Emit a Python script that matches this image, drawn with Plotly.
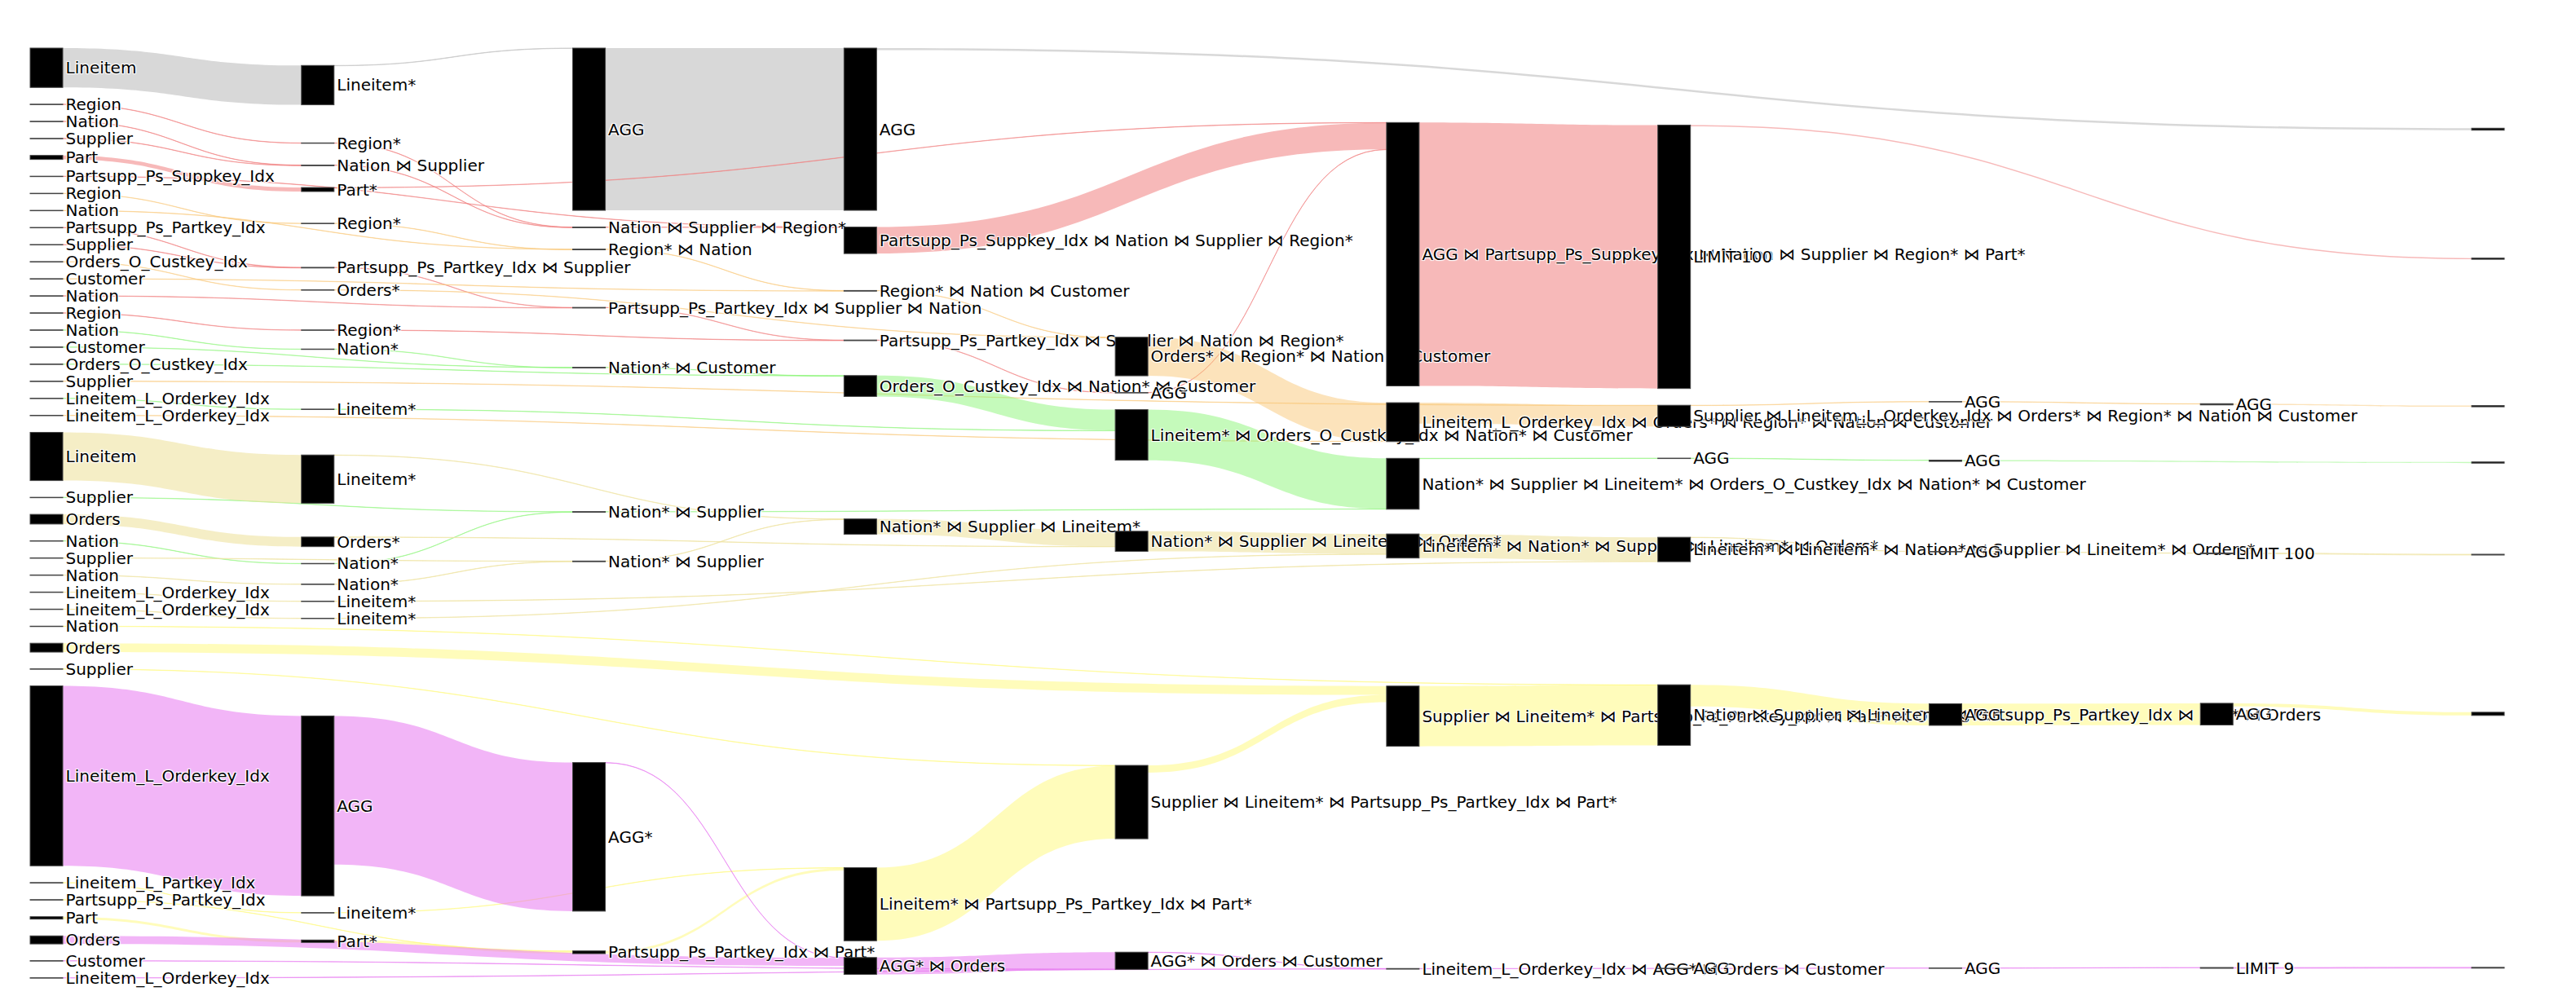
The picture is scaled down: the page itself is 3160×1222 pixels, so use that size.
import plotly.graph_objects as go

# ---------------- data ----------------
# Query-plan operators (one key per node). Prefix = query: G, P, O, N, K, Y, V.
node_keys = [
    # scans / sources
    "O.Supplier", "P.PsPart", "O.OCust", "Y.Nation", "N.Supplier", "P.Part", "N.Nation1", "P.Region1",
    "N.Nation2", "P.PsSupp", "K.Orders", "O.Region", "N.Customer", "K.Supplier", "Y.Orders", "K.LOK1",
    "O.Nation", "G.Lineitem", "Y.Part", "P.Region2", "Y.Supplier", "Y.LPart", "P.Nation1", "K.LOK2",
    "K.Nation", "O.LOK", "K.Lineitem", "O.Customer", "P.Supplier2", "V.LOKbig", "N.LOK", "V.Orders",
    "P.Nation2", "N.OCust", "Y.PsPart", "V.Customer", "P.Supplier1", "V.LOK",
    # step 1
    "Y.Lineitem*", "P.Region*1", "O.Orders*", "K.Lineitem*3", "P.NxS", "P.Part*", "V.AGG1", "K.Lineitem*2",
    "K.Nation*", "Y.Part*", "K.Orders*", "N.Nation*2", "G.Lineitem*", "O.Region*", "P.PsPartxS", "N.Nation*1",
    "P.Region*2", "K.Lineitem*1", "N.Lineitem*",
    # step 2
    "K.NxS", "P.PsPartxSxN", "Y.PsPartxPart", "P.NxSxR", "G.AGG2", "N.NxS", "O.RxN", "V.AGG*2", "N.NxC",
    # step 3
    "V.AxO", "Y.c3", "G.AGG3", "O.RxNxC", "K.c3", "P.c3big", "P.c3small", "N.c3",
    # step 4
    "P.AGG4", "N.c4", "O.c4", "K.c4", "Y.c4", "V.AxOxC",
    # step 5
    "P.c5", "K.c5", "V.c5", "Y.c5", "N.c5", "O.c5",
    # step 6
    "Y.c6", "K.c6", "N.AGG6", "O.c6", "V.AGG6", "P.LIMIT",
    # step 7
    "O.AGG7", "N.AGG7", "V.AGG7", "Y.AGG7", "K.AGG7",
    # step 8
    "V.LIMIT", "O.AGG8", "K.LIMIT", "Y.AGG8",
    # results
    "Y.final", "G.final", "P.final", "N.final", "K.final", "V.final", "O.final",
]

label_of = {
    "G.Lineitem": "Lineitem", "G.Lineitem*": "Lineitem*", "G.AGG2": "AGG", "G.AGG3": "AGG", "G.final": "",
    "P.Part": "Part", "P.Region1": "Region", "P.PsSupp": "Partsupp_Ps_Suppkey_Idx", "P.Nation1": "Nation",
    "P.Supplier1": "Supplier", "P.Region2": "Region", "P.Nation2": "Nation", "P.PsPart": "Partsupp_Ps_Partkey_Idx",
    "P.Supplier2": "Supplier", "P.Part*": "Part*", "P.Region*1": "Region*", "P.NxS": "Nation ⋈ Supplier",
    "P.Region*2": "Region*", "P.PsPartxS": "Partsupp_Ps_Partkey_Idx ⋈ Supplier",
    "P.NxSxR": "Nation ⋈ Supplier ⋈ Region*", "P.PsPartxSxN": "Partsupp_Ps_Partkey_Idx ⋈ Supplier ⋈ Nation",
    "P.c3big": "Partsupp_Ps_Suppkey_Idx ⋈ Nation ⋈ Supplier ⋈ Region*",
    "P.c3small": "Partsupp_Ps_Partkey_Idx ⋈ Supplier ⋈ Nation ⋈ Region*", "P.AGG4": "AGG",
    "P.c5": "AGG ⋈ Partsupp_Ps_Suppkey_Idx ⋈ Nation ⋈ Supplier ⋈ Region* ⋈ Part*",
    "P.LIMIT": "LIMIT 100", "P.final": "",
    "O.Region": "Region", "O.Nation": "Nation", "O.OCust": "Orders_O_Custkey_Idx", "O.Customer": "Customer",
    "O.LOK": "Lineitem_L_Orderkey_Idx", "O.Supplier": "Supplier", "O.Region*": "Region*", "O.Orders*": "Orders*",
    "O.RxN": "Region* ⋈ Nation", "O.RxNxC": "Region* ⋈ Nation ⋈ Customer",
    "O.c4": "Orders* ⋈ Region* ⋈ Nation ⋈ Customer",
    "O.c5": "Lineitem_L_Orderkey_Idx ⋈ Orders* ⋈ Region* ⋈ Nation ⋈ Customer",
    "O.c6": "Supplier ⋈ Lineitem_L_Orderkey_Idx ⋈ Orders* ⋈ Region* ⋈ Nation ⋈ Customer",
    "O.AGG7": "AGG", "O.AGG8": "AGG", "O.final": "",
    "N.Customer": "Customer", "N.Nation1": "Nation", "N.OCust": "Orders_O_Custkey_Idx", "N.Supplier": "Supplier",
    "N.LOK": "Lineitem_L_Orderkey_Idx", "N.Nation2": "Nation", "N.Nation*1": "Nation*", "N.Lineitem*": "Lineitem*",
    "N.Nation*2": "Nation*", "N.NxC": "Nation* ⋈ Customer", "N.NxS": "Nation* ⋈ Supplier",
    "N.c3": "Orders_O_Custkey_Idx ⋈ Nation* ⋈ Customer",
    "N.c4": "Lineitem* ⋈ Orders_O_Custkey_Idx ⋈ Nation* ⋈ Customer",
    "N.c5": "Nation* ⋈ Supplier ⋈ Lineitem* ⋈ Orders_O_Custkey_Idx ⋈ Nation* ⋈ Customer",
    "N.AGG6": "AGG", "N.AGG7": "AGG", "N.final": "",
    "K.Lineitem": "Lineitem", "K.LOK1": "Lineitem_L_Orderkey_Idx", "K.Orders": "Orders",
    "K.LOK2": "Lineitem_L_Orderkey_Idx", "K.Supplier": "Supplier", "K.Nation": "Nation",
    "K.Lineitem*1": "Lineitem*", "K.Lineitem*2": "Lineitem*", "K.Orders*": "Orders*", "K.Lineitem*3": "Lineitem*",
    "K.Nation*": "Nation*", "K.NxS": "Nation* ⋈ Supplier", "K.c3": "Nation* ⋈ Supplier ⋈ Lineitem*",
    "K.c4": "Nation* ⋈ Supplier ⋈ Lineitem* ⋈ Orders*",
    "K.c5": "Lineitem* ⋈ Nation* ⋈ Supplier ⋈ Lineitem* ⋈ Orders*",
    "K.c6": "Lineitem* ⋈ Lineitem* ⋈ Nation* ⋈ Supplier ⋈ Lineitem* ⋈ Orders*",
    "K.AGG7": "AGG", "K.LIMIT": "LIMIT 100", "K.final": "",
    "Y.Nation": "Nation", "Y.Orders": "Orders", "Y.Supplier": "Supplier", "Y.PsPart": "Partsupp_Ps_Partkey_Idx",
    "Y.LPart": "Lineitem_L_Partkey_Idx", "Y.Part": "Part", "Y.Lineitem*": "Lineitem*", "Y.Part*": "Part*",
    "Y.PsPartxPart": "Partsupp_Ps_Partkey_Idx ⋈ Part*", "Y.c3": "Lineitem* ⋈ Partsupp_Ps_Partkey_Idx ⋈ Part*",
    "Y.c4": "Supplier ⋈ Lineitem* ⋈ Partsupp_Ps_Partkey_Idx ⋈ Part*",
    "Y.c5": "Supplier ⋈ Lineitem* ⋈ Partsupp_Ps_Partkey_Idx ⋈ Part* ⋈ Orders",
    "Y.c6": "Nation ⋈ Supplier ⋈ Lineitem* ⋈ Partsupp_Ps_Partkey_Idx ⋈ Part* ⋈ Orders",
    "Y.AGG7": "AGG", "Y.AGG8": "AGG", "Y.final": "",
    "V.LOKbig": "Lineitem_L_Orderkey_Idx", "V.LOK": "Lineitem_L_Orderkey_Idx", "V.Customer": "Customer",
    "V.Orders": "Orders", "V.AGG1": "AGG", "V.AGG*2": "AGG*", "V.AxO": "AGG* ⋈ Orders",
    "V.AxOxC": "AGG* ⋈ Orders ⋈ Customer", "V.c5": "Lineitem_L_Orderkey_Idx ⋈ AGG* ⋈ Orders ⋈ Customer",
    "V.AGG6": "AGG", "V.AGG7": "AGG", "V.LIMIT": "LIMIT 9", "V.final": "",
}

link_source = [
    "G.Lineitem", "G.Lineitem*", "G.AGG2", "G.AGG3",
    "P.Part", "P.Region1", "P.Nation1", "P.Supplier1", "P.Region2", "P.PsPart", "P.Supplier2",
    "P.Region*1", "P.NxS", "P.Nation2", "P.PsPartxS", "P.PsSupp", "P.NxSxR", "P.Region*2", "P.PsPartxSxN",
    "P.c3small", "P.c3big", "P.AGG4", "P.Part*", "P.c5", "P.LIMIT",
    "O.Region", "O.Nation", "O.Region*", "O.OCust", "O.Customer", "O.RxN", "O.RxNxC", "O.Orders*",
    "O.c4", "O.LOK", "O.c5", "O.Supplier", "O.c6", "O.AGG7", "O.AGG8",
    "N.Customer", "N.Nation1", "N.Nation*1", "N.OCust", "N.NxC", "N.LOK", "N.Lineitem*", "N.c3",
    "N.Supplier", "N.Nation2", "N.Nation*2", "N.c4", "N.NxS", "N.c5", "N.AGG6", "N.AGG7",
    "K.Lineitem", "K.LOK1", "K.Orders", "K.LOK2", "K.Supplier", "K.Nation", "K.Nation*", "K.NxS",
    "K.Lineitem*1", "K.c3", "K.Orders*", "K.c4", "K.Lineitem*2", "K.c5", "K.Lineitem*3", "K.c6",
    "K.AGG7", "K.LIMIT",
    "Y.LPart", "Y.Part", "Y.PsPart", "Y.Part*", "Y.PsPartxPart", "Y.Lineitem*", "Y.c3", "Y.Supplier",
    "Y.c4", "Y.Orders", "Y.c5", "Y.Nation", "Y.c6", "Y.AGG7", "Y.AGG8",
    "V.LOKbig", "V.AGG1", "V.AGG*2", "V.Orders", "V.AxO", "V.Customer", "V.AxOxC", "V.LOK", "V.c5",
    "V.AGG6", "V.AGG7", "V.LIMIT",
]
link_target = [
    "G.Lineitem*", "G.AGG2", "G.AGG3", "G.final",
    "P.Part*", "P.Region*1", "P.NxS", "P.NxS", "P.Region*2", "P.PsPartxS", "P.PsPartxS",
    "P.NxSxR", "P.NxSxR", "P.PsPartxSxN", "P.PsPartxSxN", "P.c3big", "P.c3big", "P.c3small", "P.c3small",
    "P.AGG4", "P.c5", "P.c5", "P.c5", "P.LIMIT", "P.final",
    "O.Region*", "O.RxN", "O.RxN", "O.Orders*", "O.RxNxC", "O.RxNxC", "O.c4", "O.c4",
    "O.c5", "O.c5", "O.c6", "O.c6", "O.AGG7", "O.AGG8", "O.final",
    "N.NxC", "N.Nation*1", "N.NxC", "N.c3", "N.c3", "N.Lineitem*", "N.c4", "N.c4",
    "N.NxS", "N.Nation*2", "N.NxS", "N.c5", "N.c5", "N.AGG6", "N.AGG7", "N.final",
    "K.Lineitem*1", "K.Lineitem*2", "K.Orders*", "K.Lineitem*3", "K.NxS", "K.Nation*", "K.NxS", "K.c3",
    "K.c3", "K.c4", "K.c4", "K.c5", "K.c5", "K.c6", "K.c6", "K.AGG7",
    "K.LIMIT", "K.final",
    "Y.Lineitem*", "Y.Part*", "Y.PsPartxPart", "Y.PsPartxPart", "Y.c3", "Y.c3", "Y.c4", "Y.c4",
    "Y.c5", "Y.c5", "Y.c6", "Y.c6", "Y.AGG7", "Y.AGG8", "Y.final",
    "V.AGG1", "V.AGG*2", "V.AxO", "V.AxO", "V.AxOxC", "V.AxOxC", "V.c5", "V.c5", "V.AGG6",
    "V.AGG7", "V.LIMIT", "V.final",
]
link_value = [
    49, 0.4, 202, 2.5,
    5, 0.4, 0.4, 0.4, 0.4, 0.4, 0.4,
    0.4, 0.4, 0.4, 0.4, 0.4, 0.4, 0.4, 0.4,
    0.4, 33, 0.4, 0.4, 328, 1.5,
    0.4, 0.4, 0.4, 0.4, 0.4, 0.4, 0.4, 0.4,
    48, 0.4, 26, 0.4, 0.4, 0.4, 1.5,
    0.4, 0.4, 0.4, 0.4, 0.4, 0.4, 0.4, 26,
    0.4, 0.4, 0.4, 63, 0.4, 0.4, 0.4, 1.5,
    60, 0.4, 12, 0.4, 0.4, 0.4, 0.4, 0.4,
    0.4, 19, 0.4, 25, 0.4, 30, 0.4, 0.4,
    0.4, 1,
    0.4, 3, 0.4, 3, 3, 0.4, 91, 0.4,
    9, 11, 75, 0.4, 27, 27, 4,
    224, 185, 0.4, 10, 21, 0.4, 0.4, 0.4, 0.4,
    0.4, 0.4, 1,
]

# ---------------- style ----------------
query_colors = {
    "G": "rgba(200,200,200,0.7)",
    "P": "rgba(240,128,128,0.55)",
    "O": "rgba(250,200,120,0.5)",
    "N": "rgba(140,245,120,0.5)",
    "K": "rgba(238,226,160,0.6)",
    "Y": "rgba(255,250,120,0.5)",
    "V": "rgba(232,120,240,0.55)",
}

idx = {k: i for i, k in enumerate(node_keys)}

fig = go.Figure(go.Sankey(
    arrangement="snap",
    node=dict(
        label=[label_of[k] for k in node_keys],
        color="black",
        pad=30,
        thickness=40,
        line=dict(color="#444444", width=1),
    ),
    link=dict(
        source=[idx[s] for s in link_source],
        target=[idx[t] for t in link_target],
        value=link_value,
        color=[query_colors[s.split(".")[0]] for s in link_source],
    ),
    textfont=dict(family="DejaVu Sans", size=20, color="black"),
))

fig.update_layout(
    width=3160,
    height=1222,
    margin=dict(l=37, r=88, t=59, b=22),
    paper_bgcolor="white",
    font=dict(family="DejaVu Sans", size=20),
)

fig.write_html("out.html")
